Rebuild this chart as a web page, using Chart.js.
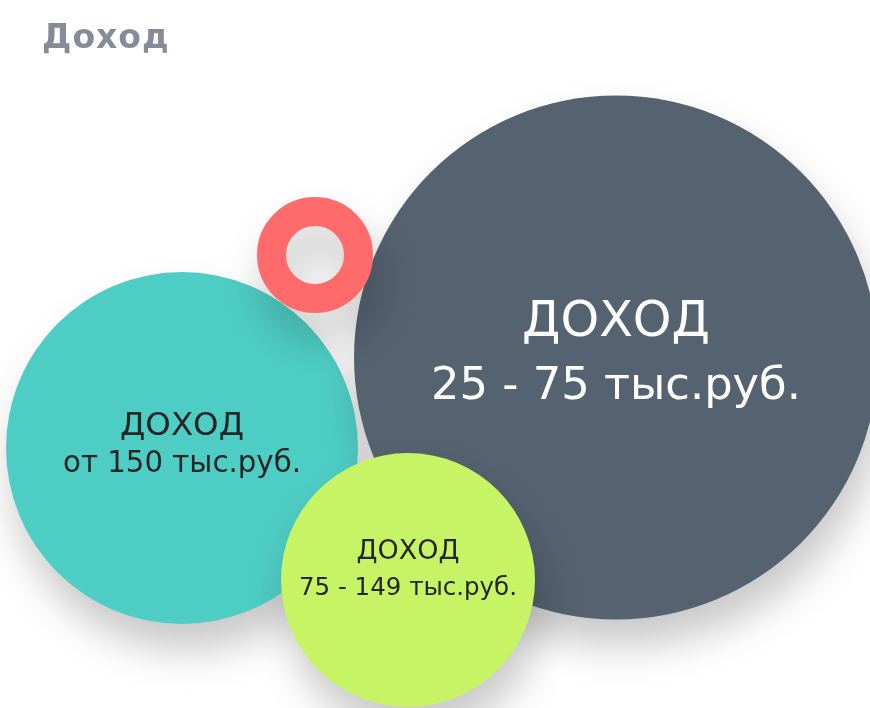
<!DOCTYPE html>
<html lang="ru">
<head>
<meta charset="utf-8">
<title>Доход</title>
<script src="https://cdn.jsdelivr.net/npm/chart.js@4.4.1/dist/chart.umd.min.js"></script>
<style>
  html, body { margin: 0; padding: 0; background: #fff; }
  #wrap { position: relative; width: 870px; height: 708px; overflow: hidden; }
  #title {
    position: absolute; left: 42px; top: 20px; margin: 0;
    font: bold 33px/1 "DejaVu Sans", sans-serif; letter-spacing: 1px;
    color: #858c97; z-index: 2;
  }
  #chart { position: absolute; left: 0; top: 0; }
</style>
</head>
<body>
<div id="wrap">
  <h1 id="title">Доход</h1>
  <canvas id="chart" width="870" height="708"></canvas>
</div>
<script>
// bubbles, in drawing order
const headline = "ДОХОД";
const categories = ["от 150 тыс.руб.", "25 - 75 тыс.руб.", "", "75 - 149 тыс.руб."];
const xValues = [182, 616, 315, 408];
const yValues = [448, 357.5, 255, 580];
const radii = [176, 262, 43.5, 127];

const fills = ["#4ecdc4", "#556270", "rgba(0,0,0,0)", "#c7f464"];
const borders = ["rgba(0,0,0,0)", "rgba(0,0,0,0)", "#ff6b6b", "rgba(0,0,0,0)"];
const borderWidths = [0, 0, 29, 0];

// text inside bubbles: target width of each line and baseline offset from centre
const labelStyles = [
  { color: "#262626", dx: 0, lines: [{ w: 124, dy: -13 }, { w: 238, dy: 24 }] },
  { color: "#ffffff", dx: 0, lines: [{ w: 188, dy: -22 }, { w: 370, dy: 41 }] },
  null,
  { color: "#262626", dx: 0, lines: [{ w: 103, dy: -21 }, { w: 218, dy: 15 }] },
];

const points = xValues.map((x, i) => ({ x: x, y: yValues[i], r: radii[i] }));

const shadowPlugin = {
  id: "bubbleShadow",
  beforeDatasetsDraw(chart) {
    const ctx = chart.ctx;
    ctx.save();
    ctx.shadowColor = "rgba(0, 0, 0, 0.22)";
    ctx.shadowBlur = 40;
    ctx.shadowOffsetX = 6;
    ctx.shadowOffsetY = 26;
  },
  afterDatasetsDraw(chart) {
    chart.ctx.restore();
  },
};

const labelPlugin = {
  id: "bubbleLabels",
  afterDraw(chart) {
    const ctx = chart.ctx;
    const meta = chart.getDatasetMeta(0);
    ctx.save();
    ctx.textAlign = "center";
    ctx.textBaseline = "alphabetic";
    meta.data.forEach((el, i) => {
      const style = labelStyles[i];
      if (!style) return;
      const texts = [headline, categories[i]];
      ctx.fillStyle = style.color;
      style.lines.forEach((line, j) => {
        ctx.font = '100px "DejaVu Sans", sans-serif';
        const w100 = ctx.measureText(texts[j]).width;
        const size = (100 * line.w) / w100;
        ctx.font = size.toFixed(2) + 'px "DejaVu Sans", sans-serif';
        ctx.fillText(texts[j], el.x + style.dx, el.y + line.dy);
      });
    });
    ctx.restore();
  },
};

new Chart(document.getElementById("chart"), {
  type: "bubble",
  data: {
    datasets: [
      {
        data: points,
        backgroundColor: fills,
        borderColor: borders,
        borderWidth: borderWidths,
        hoverBorderWidth: borderWidths,
        clip: false,
      },
    ],
  },
  options: {
    responsive: false,
    animation: false,
    events: [],
    layout: { padding: 0, autoPadding: false },
    scales: {
      x: { type: "linear", min: 0, max: 870, display: false },
      y: { type: "linear", min: 0, max: 708, reverse: true, display: false },
    },
    plugins: {
      legend: { display: false },
      tooltip: { enabled: false },
    },
  },
  plugins: [shadowPlugin, labelPlugin],
});
</script>
</body>
</html>
